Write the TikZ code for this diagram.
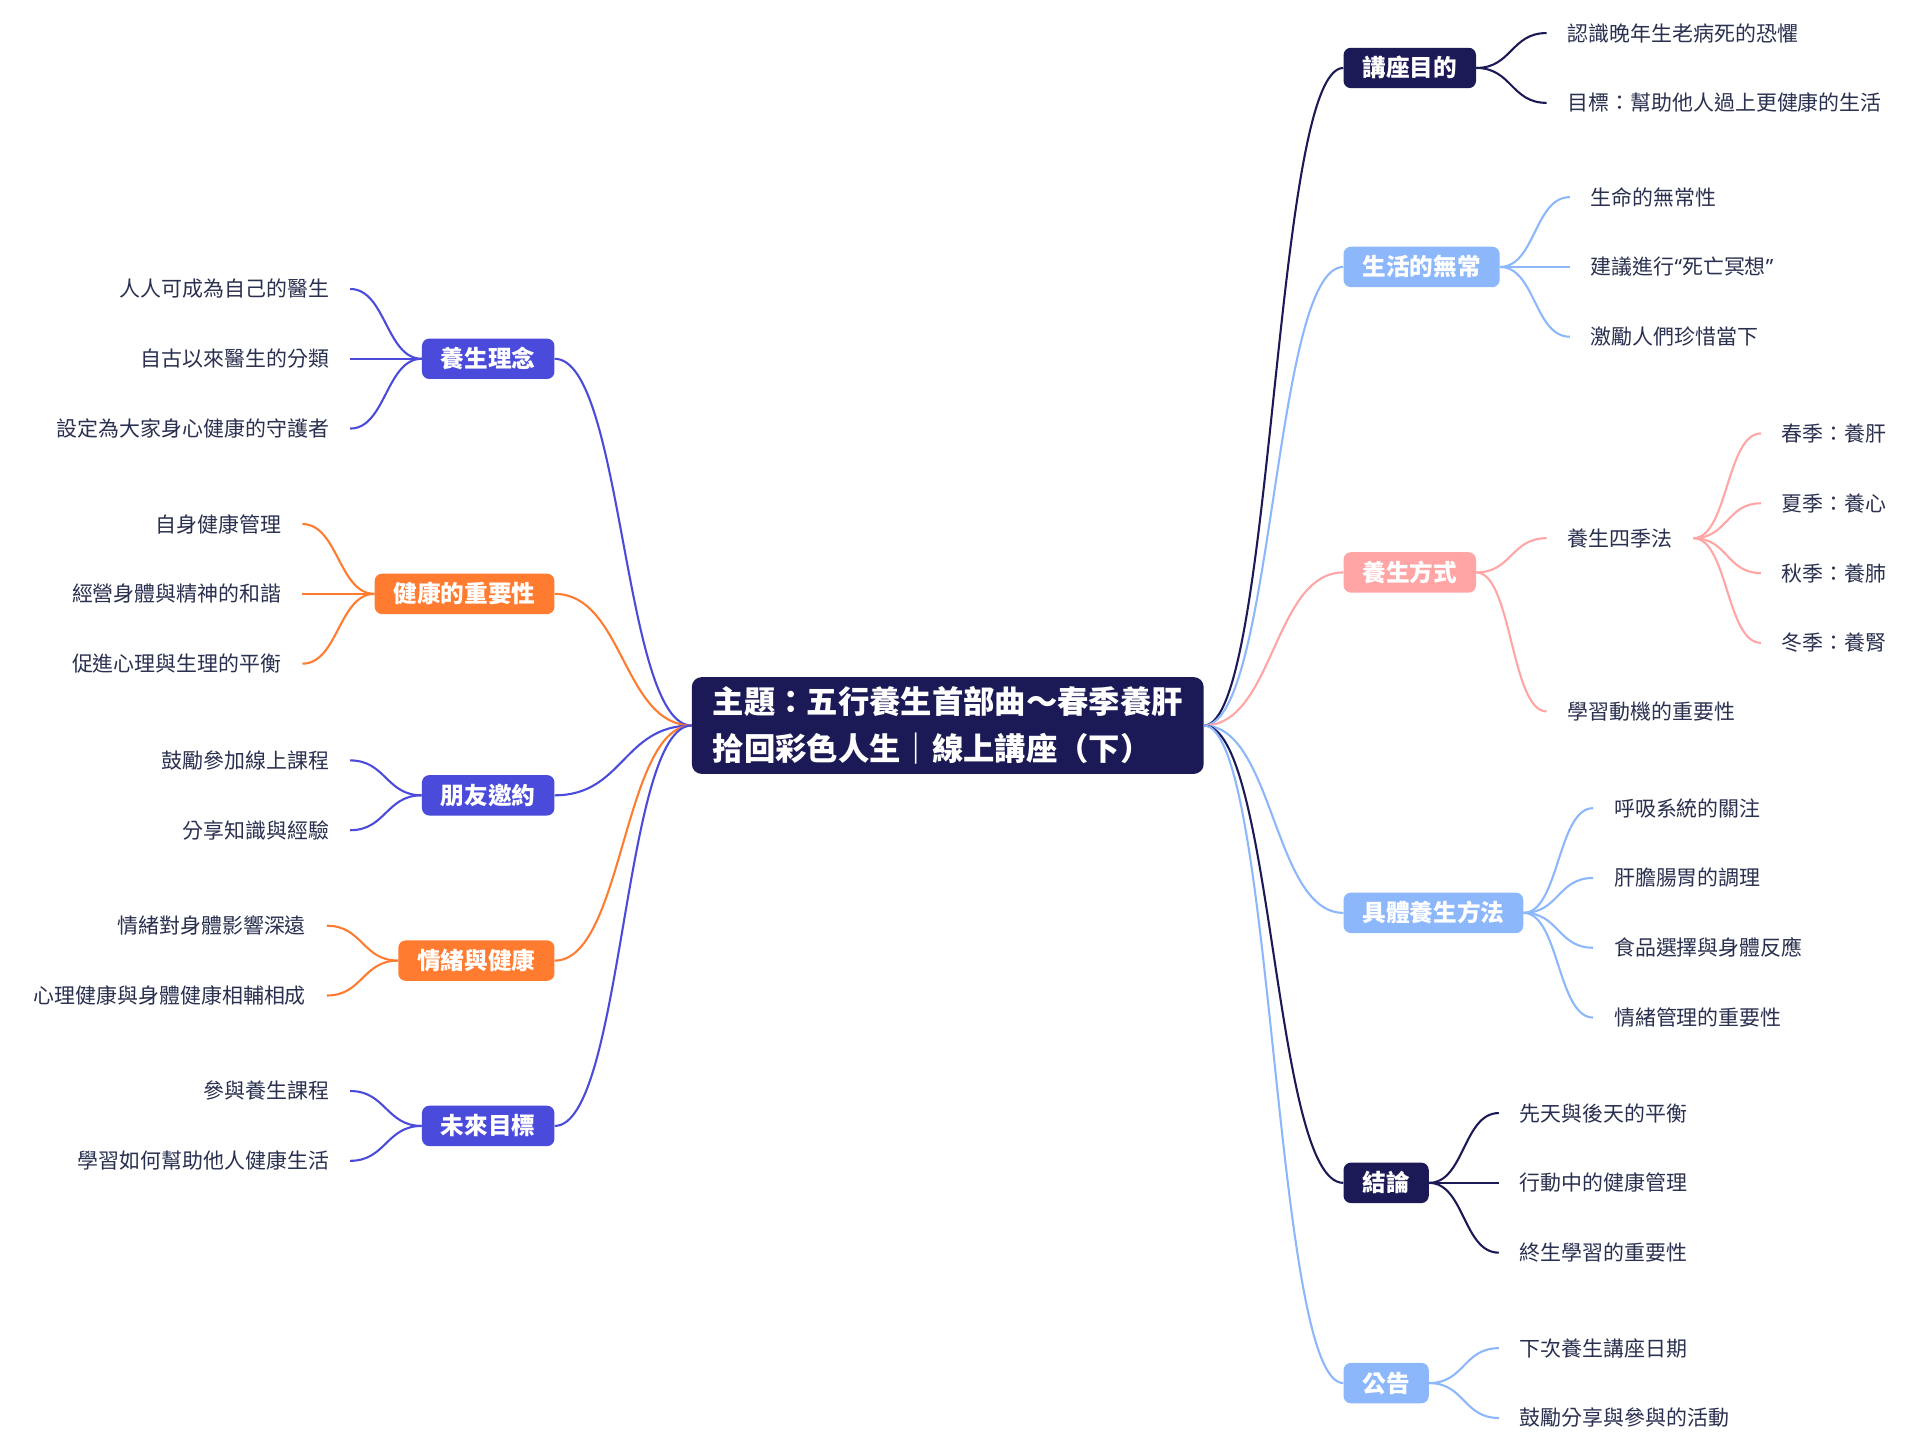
\documentclass[tikz,border=0pt]{standalone}
\usepackage{fontspec}
\setmainfont{Noto Sans CJK TC}
\newfontfamily\latinq{Noto Sans}
\definecolor{cNavy}{HTML}{1C1A56}
\definecolor{cSky}{HTML}{8DB7FB}
\definecolor{cPink}{HTML}{FFA5A5}
\definecolor{cInd}{HTML}{4A4ADB}
\definecolor{cOrg}{HTML}{FF7B30}
\definecolor{cTxt}{HTML}{2A3050}
\begin{document}
\begin{tikzpicture}[x=1pt,y=-1pt,
  mainbox/.style={fill=cNavy, text=white, rounded corners=8pt, inner xsep=17pt, inner ysep=0pt,
    minimum height=79pt, align=left, font=\fontsize{25.6pt}{38pt}\selectfont\bfseries},
  lvl/.style={fill=#1, text=white, rounded corners=6pt, inner xsep=15.5pt, inner ysep=0pt,
    minimum height=33pt, text height=16pt, text depth=1.4pt, font=\fontsize{19.3pt}{23pt}\selectfont\bfseries},
  leaf/.style={text=cTxt, inner xsep=17pt, inner ysep=0pt, text height=14.2pt, text depth=1.2pt,
    font=\fontsize{17.1pt}{20pt}\selectfont},
  br/.style={draw=#1, line width=1.7pt},
  rto/.style={to path={.. controls +(#1,0) and +(-#1,0) .. (\tikztotarget)}},
  lto/.style={to path={.. controls +(-#1,0) and +(#1,0) .. (\tikztotarget)}}
]
\fill[white] (0,0) rectangle (1568,1185);
\path[use as bounding box] (0,0) rectangle (1568,1185);

% central topic
\node[mainbox] (c) at (774,592.5) {主題：五行養生首部曲～春季養肝\\拾回彩色人生｜線上講座（下）};

% right main topics
\node[lvl=cNavy, anchor=west] (r1) at (1097,55.5) {講座目的};
\node[lvl=cSky,  anchor=west] (r2) at (1097,218) {生活的無常};
\node[lvl=cPink, anchor=west] (r3) at (1097,467.5) {養生方式};
\node[lvl=cSky,  anchor=west] (r4) at (1097,745.5) {具體養生方法};
\node[lvl=cNavy, anchor=west] (r5) at (1097,966) {結論};
\node[lvl=cSky,  anchor=west] (r6) at (1097,1129.5) {公告};

% left main topics
\node[lvl=cInd, anchor=east] (l1) at (453,293) {養生理念};
\node[lvl=cOrg, anchor=east] (l2) at (453,485) {健康的重要性};
\node[lvl=cInd, anchor=east] (l3) at (453,649.5) {朋友邀約};
\node[lvl=cOrg, anchor=east] (l4) at (453,784.5) {情緒與健康};
\node[lvl=cInd, anchor=east] (l5) at (453,919.5) {未來目標};

% right leaves
\node[leaf, anchor=west] (r1a) at (1263,27) {認識晚年生老病死的恐懼};
\node[leaf, anchor=west] (r1b) at (1263,84) {目標：幫助他人過上更健康的生活};

\node[leaf, anchor=west] (r2a) at (1282,161) {生命的無常性};
\node[leaf, anchor=west] (r2b) at (1282,218) {建議進行{\latinq “}死亡冥想{\latinq ”}};
\node[leaf, anchor=west] (r2c) at (1282,275) {激勵人們珍惜當下};

\node[leaf, anchor=west] (r3a) at (1263,439.5) {養生四季法};
\node[leaf, anchor=west] (r3b) at (1263,581) {學習動機的重要性};
\node[leaf, anchor=west] (s1) at (1438,354) {春季：養肝};
\node[leaf, anchor=west] (s2) at (1438,411) {夏季：養心};
\node[leaf, anchor=west] (s3) at (1438,468) {秋季：養肺};
\node[leaf, anchor=west] (s4) at (1438,525) {冬季：養腎};

\node[leaf, anchor=west] (r4a) at (1301,660) {呼吸系統的關注};
\node[leaf, anchor=west] (r4b) at (1301,717) {肝膽腸胃的調理};
\node[leaf, anchor=west] (r4c) at (1301,774) {食品選擇與身體反應};
\node[leaf, anchor=west] (r4d) at (1301,831) {情緒管理的重要性};

\node[leaf, anchor=west] (r5a) at (1224,909) {先天與後天的平衡};
\node[leaf, anchor=west] (r5b) at (1224,966) {行動中的健康管理};
\node[leaf, anchor=west] (r5c) at (1224,1023) {終生學習的重要性};

\node[leaf, anchor=west] (r6a) at (1224,1101) {下次養生講座日期};
\node[leaf, anchor=west] (r6b) at (1224,1158) {鼓勵分享與參與的活動};

% left leaves
\node[leaf, anchor=east] (l1a) at (286,236) {人人可成為自己的醫生};
\node[leaf, anchor=east] (l1b) at (286,293) {自古以來醫生的分類};
\node[leaf, anchor=east] (l1c) at (286,350) {設定為大家身心健康的守護者};

\node[leaf, anchor=east] (l2a) at (247,428) {自身健康管理};
\node[leaf, anchor=east] (l2b) at (247,485) {經營身體與精神的和諧};
\node[leaf, anchor=east] (l2c) at (247,542) {促進心理與生理的平衡};

\node[leaf, anchor=east] (l3a) at (286,621) {鼓勵參加線上課程};
\node[leaf, anchor=east] (l3b) at (286,678) {分享知識與經驗};

\node[leaf, anchor=east] (l4a) at (267,756) {情緒對身體影響深遠};
\node[leaf, anchor=east] (l4b) at (267,813) {心理健康與身體健康相輔相成};

\node[leaf, anchor=east] (l5a) at (286,891) {參與養生課程};
\node[leaf, anchor=east] (l5b) at (286,948) {學習如何幫助他人健康生活};

% connectors: center to main topics
\draw[br=cNavy] (c.east) to[rto=57] (r1.west);
\draw[br=cSky]  (c.east) to[rto=57] (r2.west);
\draw[br=cPink] (c.east) to[rto=57] (r3.west);
\draw[br=cSky]  (c.east) to[rto=57] (r4.west);
\draw[br=cNavy] (c.east) to[rto=57] (r5.west);
\draw[br=cSky]  (c.east) to[rto=57] (r6.west);

\draw[br=cInd] (c.west) to[lto=56] (l1.east);
\draw[br=cOrg] (c.west) to[lto=56] (l2.east);
\draw[br=cInd] (c.west) to[lto=56] (l3.east);
\draw[br=cOrg] (c.west) to[lto=56] (l4.east);
\draw[br=cInd] (c.west) to[lto=56] (l5.east);

% connectors: main topics to leaves (right)
\draw[br=cNavy] (r1.east) to[rto=29] (r1a.west);
\draw[br=cNavy] (r1.east) to[rto=29] (r1b.west);
\draw[br=cSky] (r2.east) to[rto=29] (r2a.west);
\draw[br=cSky] (r2.east) to[rto=29] (r2b.west);
\draw[br=cSky] (r2.east) to[rto=29] (r2c.west);
\draw[br=cPink] (r3.east) to[rto=29] (r3a.west);
\draw[br=cPink] (r3.east) to[rto=29] (r3b.west);
\draw[br=cPink] (r3a.east) to[rto=28] (s1.west);
\draw[br=cPink] (r3a.east) to[rto=28] (s2.west);
\draw[br=cPink] (r3a.east) to[rto=28] (s3.west);
\draw[br=cPink] (r3a.east) to[rto=28] (s4.west);
\draw[br=cSky] (r4.east) to[rto=29] (r4a.west);
\draw[br=cSky] (r4.east) to[rto=29] (r4b.west);
\draw[br=cSky] (r4.east) to[rto=29] (r4c.west);
\draw[br=cSky] (r4.east) to[rto=29] (r4d.west);
\draw[br=cNavy] (r5.east) to[rto=29] (r5a.west);
\draw[br=cNavy] (r5.east) to[rto=29] (r5b.west);
\draw[br=cNavy] (r5.east) to[rto=29] (r5c.west);
\draw[br=cSky] (r6.east) to[rto=29] (r6a.west);
\draw[br=cSky] (r6.east) to[rto=29] (r6b.west);

% connectors: main topics to leaves (left)
\draw[br=cInd] (l1.west) to[lto=29] (l1a.east);
\draw[br=cInd] (l1.west) to[lto=29] (l1b.east);
\draw[br=cInd] (l1.west) to[lto=29] (l1c.east);
\draw[br=cOrg] (l2.west) to[lto=29] (l2a.east);
\draw[br=cOrg] (l2.west) to[lto=29] (l2b.east);
\draw[br=cOrg] (l2.west) to[lto=29] (l2c.east);
\draw[br=cInd] (l3.west) to[lto=29] (l3a.east);
\draw[br=cInd] (l3.west) to[lto=29] (l3b.east);
\draw[br=cOrg] (l4.west) to[lto=29] (l4a.east);
\draw[br=cOrg] (l4.west) to[lto=29] (l4b.east);
\draw[br=cInd] (l5.west) to[lto=29] (l5a.east);
\draw[br=cInd] (l5.west) to[lto=29] (l5b.east);
\end{tikzpicture}
\end{document}
